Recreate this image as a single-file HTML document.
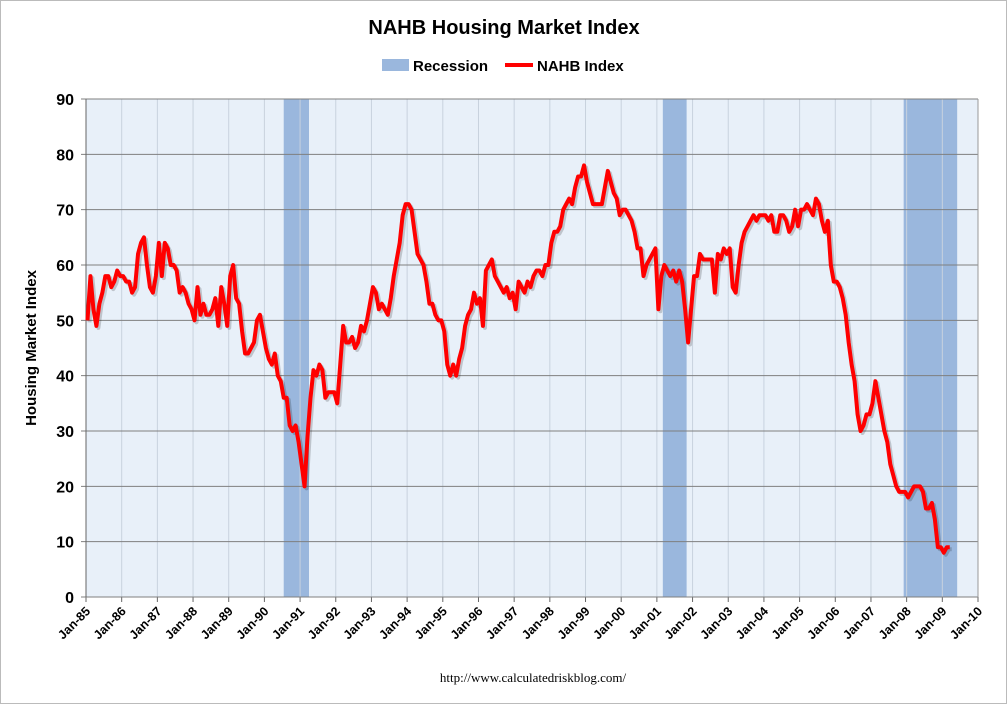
<!DOCTYPE html>
<html><head><meta charset="utf-8">
<style>
body{margin:0;background:#fff;font-family:"Liberation Sans",sans-serif;}
svg{display:block}
</style></head>
<body>
<svg id="chart" width="1008" height="705" xmlns="http://www.w3.org/2000/svg">
<rect x="0.5" y="0.5" width="1006" height="703" fill="#fff" stroke="#bbb"/>
<text x="504" y="34" text-anchor="middle" font-size="20" font-weight="bold" fill="#000">NAHB Housing Market Index</text>
<g>
<rect x="382" y="59" width="27" height="12" fill="#9ab7dd"/>
<text x="413" y="71" font-size="15" font-weight="bold">Recession</text>
<line x1="505" y1="65" x2="533" y2="65" stroke="#f00" stroke-width="4"/>
<text x="537" y="71" font-size="15" font-weight="bold">NAHB Index</text>
</g>
<text transform="translate(36,348) rotate(-90)" text-anchor="middle" font-size="15" font-weight="bold">Housing Market Index</text>
<text x="533" y="682" text-anchor="middle" font-size="13" font-family="Liberation Serif,serif">http://www.calculatedriskblog.com/</text>
<g id="plot"></g>
</svg>
<script>
const yearLabels=["Jan-85","Jan-86","Jan-87","Jan-88","Jan-89","Jan-90","Jan-91","Jan-92","Jan-93","Jan-94","Jan-95","Jan-96","Jan-97","Jan-98","Jan-99","Jan-00","Jan-01","Jan-02","Jan-03","Jan-04","Jan-05","Jan-06","Jan-07","Jan-08","Jan-09","Jan-10"];
const yTicks=[0,10,20,30,40,50,60,70,80,90];
const recessionStarts=[66.5,194,275];   // months since Jan-85
const recessionEnds=[75,202,293];
const nahb=[
50,58,52,49,53,55,58,58,56,57,59,58,
58,57,57,55,56,62,64,65,60,56,55,58,
64,58,64,63,60,60,59,55,56,55,53,52,
50,56,51,53,51,51,52,54,49,56,53,49,
58,60,54,53,48,44,44,45,46,50,51,48,
45,43,42,44,40,39,36,36,31,30,31,28,
24,20,29,36,41,40,42,41,36,37,37,37,
35,42,49,46,46,47,45,46,49,48,50,53,
56,55,52,53,52,51,54,58,61,64,69,71,
71,70,66,62,61,60,57,53,53,51,50,50,
48,42,40,42,40,43,45,49,51,52,55,53,
54,49,59,60,61,58,57,56,55,56,54,55,
52,57,56,55,57,56,58,59,59,58,60,60,
64,66,66,67,70,71,72,71,74,76,76,78,
75,73,71,71,71,71,74,77,75,73,72,69,
70,70,69,68,66,63,63,58,60,61,62,63,
52,58,60,59,58,59,57,59,57,52,46,52,
58,58,62,61,61,61,61,55,62,61,63,62,
63,56,55,60,64,66,67,68,69,68,69,69,
69,68,69,66,66,69,69,68,66,67,70,67,
70,70,71,70,69,72,71,68,66,68,60,57,
57,56,54,51,46,42,39,33,30,31,33,33,
35,39,36,33,30,28,24,22,20,19,19,19,
18,19,20,20,20,19,16,16,17,14,9,9,
8,9,9];
const L=86,R=978,T=99,B=597;
const xs=m=>L+m*(R-L)/300;
const ys=v=>B-v*(B-T)/90;
const NS="http://www.w3.org/2000/svg";
const g=document.getElementById('plot');
function mk(tag,attrs){const e=document.createElementNS(NS,tag);for(const k in attrs)e.setAttribute(k,attrs[k]);g.appendChild(e);return e;}
let e=mk('rect',{x:L,y:T,width:R-L,height:B-T,fill:'#e8f0f9'});


for(let i=0;i<recessionStarts.length;i++){
 e=mk('rect',{x:xs(recessionStarts[i]),y:T,width:xs(recessionEnds[i])-xs(recessionStarts[i]),height:B-T,fill:'#9ab7dd'});
 
 
}
for(let i=0;i<yearLabels.length;i++){
 const x=xs(i*12);
 e=mk('line',{x1:x,y1:T,x2:x,y2:B,stroke:'#c8d2de','stroke-width':1});
 
 
 e=mk('line',{x1:x,y1:B,x2:x,y2:B+5,stroke:'#666'});
 
 
 e=mk('text',{transform:`translate(${x+5},${B+15}) rotate(-45)`,'text-anchor':'end','font-size':12.5,'font-weight':'bold'});
 e.textContent=yearLabels[i];
 
 
}
for(const v of yTicks){
 const y=ys(v);
 e=mk('line',{x1:L-5,y1:y,x2:R,y2:y,stroke:'#7f7f7f','stroke-width':1});
 
 
 e=mk('text',{x:L-12,y:y+6,'text-anchor':'end','font-size':16,'font-weight':'bold'});
 e.textContent=v;
 
 
}
e=mk('line',{x1:L,y1:T,x2:L,y2:B,stroke:'#666'});


e=mk('line',{x1:R,y1:T,x2:R,y2:B,stroke:'#999'});


const pts=nahb.map((v,i)=>xs(i+0.5)+','+ys(v)).join(' ');
e=mk('polyline',{points:pts,fill:'none',stroke:'rgba(0,0,0,0.18)','stroke-width':4,'stroke-linejoin':'round',transform:'translate(2,2)'});


e=mk('polyline',{points:pts,fill:'none',stroke:'#f00','stroke-width':4,'stroke-linejoin':'round'});


</script>
</body></html>
